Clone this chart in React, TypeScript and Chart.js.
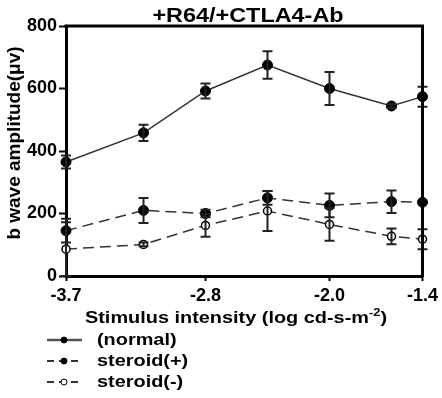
import React, { useEffect, useRef } from "react";
import { Chart, registerables } from "chart.js";

Chart.register(...registerables);

const xValues = [-3.7, -3.2, -2.8, -2.4, -2.0, -1.6, -1.4];
const xTicks = [-3.7, -2.8, -2.0, -1.4];
const yTicks = [0, 200, 400, 600, 800];

const normal = [365, 458, 592, 675, 600, 544, 574];
const normalErr = [21, 26, 24, 44, 53, 6, 32];
const steroidPlus = [145, 210, 200, 250, 226, 238, 236];
const steroidPlusErr = [38, 40, 12, 22, 38, 36, 0];
const steroidMinus = [86, 101, 162, 208, 165, 127, 118];
const steroidMinusErr = [86, 6, 36, 64, 52, 25, 32];

const seriesLabels = ["(normal)", "steroid(+)", "steroid(-)"];
const titleText = "+R64/+CTLA4-Ab";
const yTitle = "b wave amplitude(\u03bcv)";
const xTitleMain = "Stimulus intensity (log cd-s-m";
const xTitleSup = "-2";
const xTitleEnd = ")";

const FONT = "Arial, 'Liberation Sans', Helvetica, sans-serif";
const STRETCH = 1.17;

const errors = [normalErr, steroidPlusErr, steroidMinusErr];

const errorBarPlugin = {
  id: "errorBars",
  afterDatasetsDraw(chart: any) {
    const ctx = chart.ctx;
    const yScale = chart.scales.y;
    ctx.save();
    ctx.strokeStyle = "#222";
    ctx.lineWidth = 2;
    chart.data.datasets.forEach((ds: any, di: number) => {
      const meta = chart.getDatasetMeta(di);
      const err = errors[di];
      meta.data.forEach((pt: any, i: number) => {
        const e = err[i];
        if (!e) return;
        const v = ds.data[i].y;
        const yTop = yScale.getPixelForValue(v + e);
        const yBot = yScale.getPixelForValue(Math.max(0, v - e));
        const x = pt.x;
        ctx.beginPath();
        ctx.moveTo(x, yTop);
        ctx.lineTo(x, yBot);
        ctx.moveTo(x - 5, yTop);
        ctx.lineTo(x + 5, yTop);
        ctx.moveTo(x - 5, yBot);
        ctx.lineTo(x + 5, yBot);
        ctx.stroke();
      });
    });
    ctx.restore();
  },
};

function stretchedText(ctx: any, text: string, x: number, y: number, align: string) {
  const w = ctx.measureText(text).width * STRETCH;
  let left = x;
  if (align === "center") left = x - w / 2;
  ctx.save();
  ctx.translate(left, y);
  ctx.scale(STRETCH, 1);
  ctx.textAlign = "left";
  ctx.fillText(text, 0, 0);
  ctx.restore();
  return w;
}

const decorPlugin = {
  id: "decor",
  afterDraw(chart: any) {
    const ctx = chart.ctx;
    const a = chart.chartArea;
    ctx.save();
    // box top and right
    ctx.strokeStyle = "#000";
    ctx.lineWidth = 3;
    ctx.beginPath();
    ctx.moveTo(a.left - 1.5, a.top);
    ctx.lineTo(a.right, a.top);
    ctx.lineTo(a.right, a.bottom + 1.5);
    ctx.stroke();

    // title
    ctx.fillStyle = "#000";
    ctx.textBaseline = "alphabetic";
    ctx.font = `bold 20px ${FONT}`;
    stretchedText(ctx, titleText, 248, 22, "center");

    // y title
    ctx.save();
    ctx.translate(20, 143);
    ctx.rotate(-Math.PI / 2);
    ctx.font = `bold 19px ${FONT}`;
    ctx.textAlign = "center";
    ctx.fillText(yTitle, 0, 0);
    ctx.restore();

    // x title with superscript
    ctx.font = `bold 17px ${FONT}`;
    const wMain = ctx.measureText(xTitleMain).width * STRETCH;
    ctx.font = `bold 11px ${FONT}`;
    const wSup = ctx.measureText(xTitleSup).width * STRETCH;
    ctx.font = `bold 17px ${FONT}`;
    const wEnd = ctx.measureText(xTitleEnd).width * STRETCH;
    const total = wMain + wSup + wEnd;
    const x0 = 236 - total / 2;
    const base = 323;
    stretchedText(ctx, xTitleMain, x0, base, "left");
    ctx.font = `bold 11px ${FONT}`;
    stretchedText(ctx, xTitleSup, x0 + wMain, base - 7, "left");
    ctx.font = `bold 17px ${FONT}`;
    stretchedText(ctx, xTitleEnd, x0 + wMain + wSup, base, "left");

    // legend
    const ys = [340, 361, 382];
    chart.data.datasets.forEach((ds: any, i: number) => {
      const y = ys[i];
      ctx.strokeStyle = i === 0 ? "#555" : "#333";
      ctx.lineWidth = i === 0 ? 2.5 : 2;
      ctx.setLineDash(ds.borderDash ? [7, 5] : []);
      ctx.beginPath();
      ctx.moveTo(47, y);
      ctx.lineTo(82, y);
      ctx.stroke();
      ctx.setLineDash([]);
      ctx.beginPath();
      ctx.arc(64, y, 3, 0, Math.PI * 2);
      ctx.fillStyle = ds.pointBackgroundColor;
      ctx.fill();
      ctx.strokeStyle = "#000";
      ctx.lineWidth = 1;
      ctx.stroke();
      ctx.fillStyle = "#000";
      ctx.font = `bold 17px ${FONT}`;
      ctx.textBaseline = "middle";
      stretchedText(ctx, ds.label, 97, y, "left");
    });
    ctx.restore();
  },
};

const toPoints = (vals: number[]) => vals.map((v, i) => ({ x: xValues[i], y: v }));

export default function App() {
  const ref = useRef<HTMLCanvasElement>(null);
  useEffect(() => {
    if (!ref.current) return;
    const chart = new Chart(ref.current, {
      type: "line",
      data: {
        datasets: [
          {
            label: seriesLabels[0],
            data: toPoints(normal),
            borderColor: "#333",
            borderWidth: 1.5,
            pointBackgroundColor: "#000",
            pointBorderColor: "#000",
            pointRadius: 5,
            pointBorderWidth: 1,
          },
          {
            label: seriesLabels[1],
            data: toPoints(steroidPlus),
            borderColor: "#333",
            borderWidth: 1.5,
            borderDash: [11, 6],
            pointBackgroundColor: "#000",
            pointBorderColor: "#000",
            pointRadius: 5,
            pointBorderWidth: 1,
          },
          {
            label: seriesLabels[2],
            data: toPoints(steroidMinus),
            borderColor: "#333",
            borderWidth: 1.5,
            borderDash: [11, 6],
            pointBackgroundColor: "#fff",
            pointBorderColor: "#000",
            pointRadius: 4,
            pointBorderWidth: 1.5,
          },
        ],
      },
      options: {
        animation: false,
        responsive: false,
        maintainAspectRatio: false,
        layout: { padding: { top: 26, right: 17, bottom: 0, left: 0 } },
        plugins: { legend: { display: false }, title: { display: false }, tooltip: { enabled: false } },
        elements: { line: { tension: 0 } },
        clip: false as any,
        scales: {
          x: {
            type: "linear",
            min: -3.7,
            max: -1.4,
            afterBuildTicks: (s: any) => {
              s.ticks = xTicks.map((v) => ({ value: v }));
            },
            afterFit: (s: any) => {
              s.height = 122;
            },
            ticks: {
              color: "#000",
              font: { family: FONT, size: 18, weight: "bold" },
              padding: 4,
              maxRotation: 0,
              autoSkip: false,
              callback: (v: any) => Number(v).toFixed(1),
            },
            grid: { display: true, drawOnChartArea: false, color: "#000", tickLength: 5, tickWidth: 2 },
            border: { display: true, color: "#000", width: 3 },
          },
          y: {
            type: "linear",
            min: 0,
            max: 800,
            afterBuildTicks: (s: any) => {
              s.ticks = yTicks.map((v) => ({ value: v }));
            },
            afterFit: (s: any) => {
              s.width = 66;
            },
            ticks: {
              color: "#000",
              font: { family: FONT, size: 18, weight: "bold" },
              padding: 2,
            },
            grid: { display: true, drawOnChartArea: false, color: "#000", tickLength: 7, tickWidth: 2 },
            border: { display: true, color: "#000", width: 3 },
          },
        },
      },
      plugins: [errorBarPlugin, decorPlugin],
    });
    return () => chart.destroy();
  }, []);
  return (
    <div style={{ position: "fixed", left: 0, top: 0, width: 442, height: 398, background: "#fff" }}>
      <canvas ref={ref} width={442} height={398} style={{ width: 442, height: 398 }} />
    </div>
  );
}
